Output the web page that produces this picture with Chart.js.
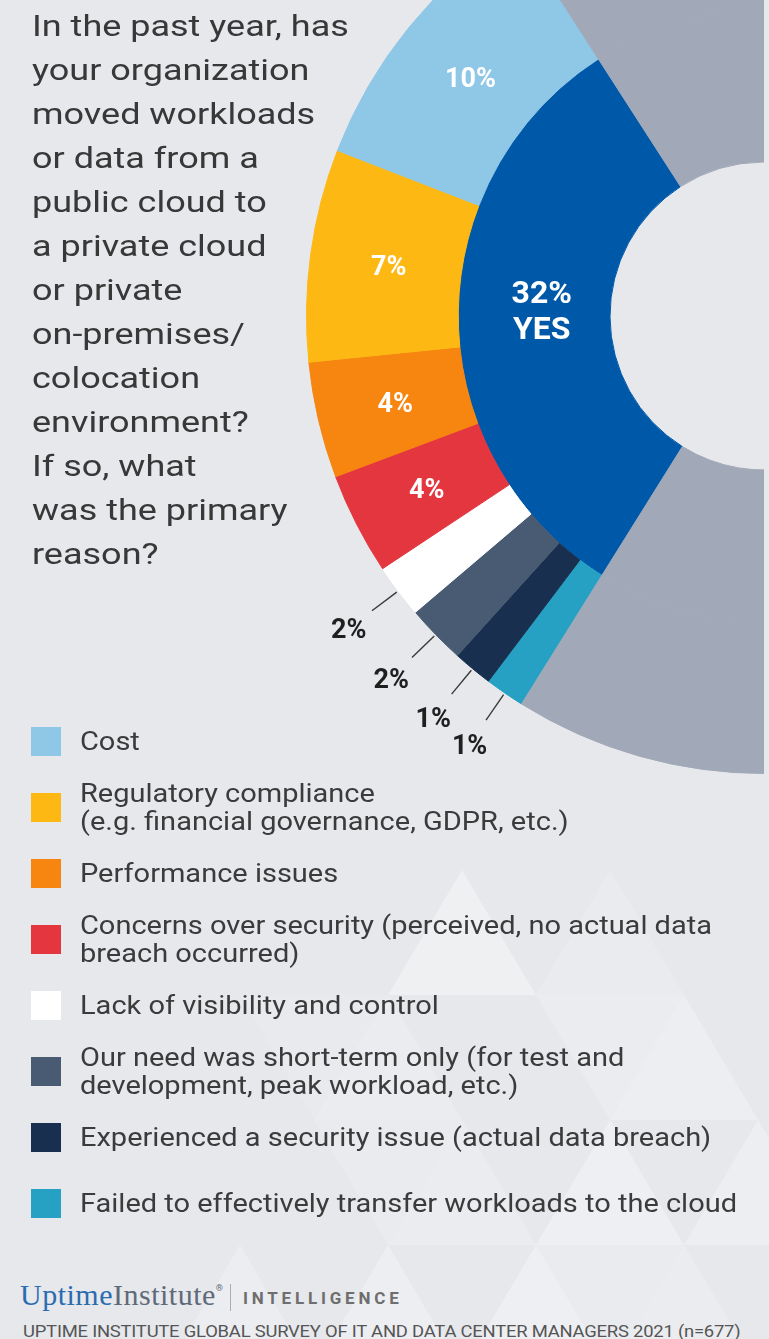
<!DOCTYPE html>
<html>
<head>
<meta charset="utf-8">
<script src="https://cdn.jsdelivr.net/npm/chart.js@4.4.1/dist/chart.umd.min.js"></script>
<style>
  html,body{margin:0;padding:0;}
  body{width:769px;height:1339px;background:#e6e8ec;position:relative;overflow:hidden;font-family:Roboto,'Noto Sans',sans-serif;}
  #bg{position:absolute;left:0;top:0;}
  #clip{position:absolute;left:0;top:0;width:764px;height:1339px;overflow:hidden;}
  #chart{position:absolute;left:264px;top:-184px;}
  #title{position:absolute;left:32px;top:4px;font-size:30px;line-height:44px;color:#383838;white-space:pre-line;transform:scaleX(1.2);transform-origin:0 0;}
  #legend{position:absolute;left:31px;top:708px;}
  .item{display:flex;align-items:center;height:66px;}
  .sw{width:30px;height:29px;flex:none;margin-right:19px;}
  .txt{font-size:26px;line-height:28px;color:#3b3b3b;white-space:pre-line;transform:scaleX(1.115);transform-origin:0 50%;}
  #logo{position:absolute;left:20px;top:1274px;height:30px;line-height:28px;white-space:nowrap;}
  #logo .up{font-family:'Liberation Serif','DejaVu Serif',serif;font-size:30px;color:#2b6cb0;letter-spacing:0.5px;}
  #logo .inst{font-family:'Liberation Serif','DejaVu Serif',serif;font-size:30px;color:#5f6a79;letter-spacing:0.5px;}
  #logo sup{font-size:9px;color:#5f6a79;vertical-align:14px;}
  #logo .sep{display:inline-block;width:1px;height:27px;background:#a9adb4;margin:0 12px 0 7px;vertical-align:-6px;}
  #logo .intel{font-size:17px;font-weight:bold;color:#6e6e6e;letter-spacing:3.8px;vertical-align:1px;}
  #source{position:absolute;left:23px;top:1321px;font-size:17px;line-height:20px;color:#555;white-space:nowrap;letter-spacing:-0.2px;transform:scaleX(1.083);transform-origin:0 0;}
</style>
</head>
<body>
<svg id="bg" width="769" height="1339"></svg>
<div id="clip"><canvas id="chart" width="1000" height="1000"></canvas></div>
<div id="title">In the past year, has
your organization
moved workloads
or data from a
public cloud to
a private cloud
or private
on-premises/
colocation
environment?
If so, what
was the primary
reason?</div>
<div id="legend"></div>
<div id="logo"><span class="up">Uptime</span><span class="inst">Institute</span><sup>®</sup><span class="sep"></span><span class="intel">INTELLIGENCE</span></div>
<div id="source">UPTIME INSTITUTE GLOBAL SURVEY OF IT AND DATA CENTER MANAGERS 2021 (n=677)</div>
<script>
// ---- data (legend order, counter-clockwise on the ring) ----
const reasons = [
  'Cost',
  'Regulatory compliance\n(e.g. financial governance, GDPR, etc.)',
  'Performance issues',
  'Concerns over security (perceived, no actual data\nbreach occurred)',
  'Lack of visibility and control',
  'Our need was short-term only (for test and\ndevelopment, peak workload, etc.)',
  'Experienced a security issue (actual data breach)',
  'Failed to effectively transfer workloads to the cloud'
];
const reasonPct   = [10, 7, 4, 4, 2, 2, 1, 1];                     // printed labels
const reasonShare = [10.0, 7.5, 4.1, 3.6, 1.9, 2.1, 1.4, 1.4];     // arc sizes
const reasonColors = ['#8fc7e6','#fdb813','#f6860f','#e4363f','#ffffff','#485b72','#182f4f','#26a1c4'];
const yesPct = 32, noPct = 68;
const yesLabel = 'YES';
const yesColor = '#0058a9', noColor = '#a1a8b7';

// ---- legend ----
const lg = document.getElementById('legend');
reasons.forEach((r,i)=>{
  const d = document.createElement('div'); d.className='item';
  d.innerHTML = `<div class="sw" style="background:${reasonColors[i]}"></div><div class="txt"></div>`;
  d.querySelector('.txt').textContent = r;
  lg.appendChild(d);
});

// ---- faint triangle pattern (decoration) ----
(() => {
  const svg = document.getElementById('bg');
  const w=148, h=125, x0=462, y0=870;
  const tris = [ // [row, col, up?, opacity]
    [0,0,1,.35],[0,1,1,.14],[1,-1,1,.18],[1,1,1,.28],[1,0,0,.18],[2,0,1,.3],[2,-1,1,.2],
    [2,1,1,.28],[2,-2,0,.13],[3,-1,1,.32],[3,-2,1,.28],[3,-3,1,.22],[3,0,1,.2],[3,-1,0,.14],[1,-2,0,.1]
  ];
  tris.forEach(([r,k,up,o])=>{
    const ax = x0 + 74*r + w*k, ay = y0 + h*r;
    const pts = up ? [[ax,ay],[ax-74,ay+h],[ax+74,ay+h]] : [[ax,ay],[ax+w,ay],[ax+74,ay+h]];
    const p = document.createElementNS('http://www.w3.org/2000/svg','polygon');
    p.setAttribute('points', pts.map(q=>q.join(',')).join(' '));
    p.setAttribute('fill', `rgba(255,255,255,${o})`);
    svg.appendChild(p);
  });
})();

// ---- chart ----
const ringData   = reasonShare.slice().reverse().concat([100 - reasonShare.reduce((s,v)=>s+v,0)]);
const ringColors = reasonColors.slice().reverse().concat([noColor]);
const n = reasons.length;

const sliceLabels = {
  id:'sliceLabels',
  afterDatasetsDraw(chart){
    const ctx = chart.ctx;
    ctx.save();
    ctx.textAlign = 'center';
    ctx.textBaseline = 'alphabetic';
    chart.getDatasetMeta(0).data.slice(0,n).forEach((arc,j)=>{
      const li = n-1-j;
      const {x,y,startAngle,endAngle,innerRadius,outerRadius} = arc.getProps(['x','y','startAngle','endAngle','innerRadius','outerRadius'],true);
      const a = (startAngle+endAngle)/2, c = Math.cos(a), s = Math.sin(a);
      const txt = reasonPct[li] + '%';
      ctx.font = "bold 27px Roboto, 'Noto Sans', sans-serif";
      if (reasonPct[li] >= 3) {
        const r = (innerRadius+outerRadius)/2 - 3;
        ctx.fillStyle = '#ffffff';
        ctx.fillText(txt, x+c*r, y+s*r+10);
      } else {
        ctx.strokeStyle = '#3a3a3a'; ctx.lineWidth = 1.4;
        ctx.beginPath();
        ctx.moveTo(x+c*(outerRadius+2),  y+s*(outerRadius+2));
        ctx.lineTo(x+c*(outerRadius+33), y+s*(outerRadius+33));
        ctx.stroke();
        ctx.fillStyle = '#1f1f1f';
        ctx.fillText(txt, x+c*(outerRadius+62), y+s*(outerRadius+62)+10);
      }
    });
    const yes = chart.getDatasetMeta(1).data[0];
    const p = yes.getProps(['x','y','startAngle','endAngle','innerRadius','outerRadius'],true);
    const a = (p.startAngle+p.endAngle)/2, r = p.innerRadius + 0.45*(p.outerRadius-p.innerRadius);
    const px = p.x+Math.cos(a)*r, py = p.y+Math.sin(a)*r;
    ctx.fillStyle = '#ffffff';
    ctx.font = "bold 32px Roboto, 'Noto Sans', sans-serif";
    ctx.fillText(yesPct + '%', px, py-15);
    ctx.fillText(yesLabel, px, py+21);
    ctx.restore();
  }
};

new Chart(document.getElementById('chart'), {
  type:'doughnut',
  data:{
    labels: reasons.slice().reverse().concat(['No']),
    datasets:[
      {data: ringData, backgroundColor: ringColors, borderColor: ringColors, borderWidth:1},
      {data: [yesPct, noPct], backgroundColor: [yesColor, noColor], borderColor: [yesColor, noColor], borderWidth:1}
    ]
  },
  options:{
    responsive:false, animation:false, events:[],
    rotation:212, cutout:154,
    layout:{padding:42},
    plugins:{legend:{display:false}, tooltip:{enabled:false}}
  },
  plugins:[sliceLabels]
});
</script>
</body>
</html>
